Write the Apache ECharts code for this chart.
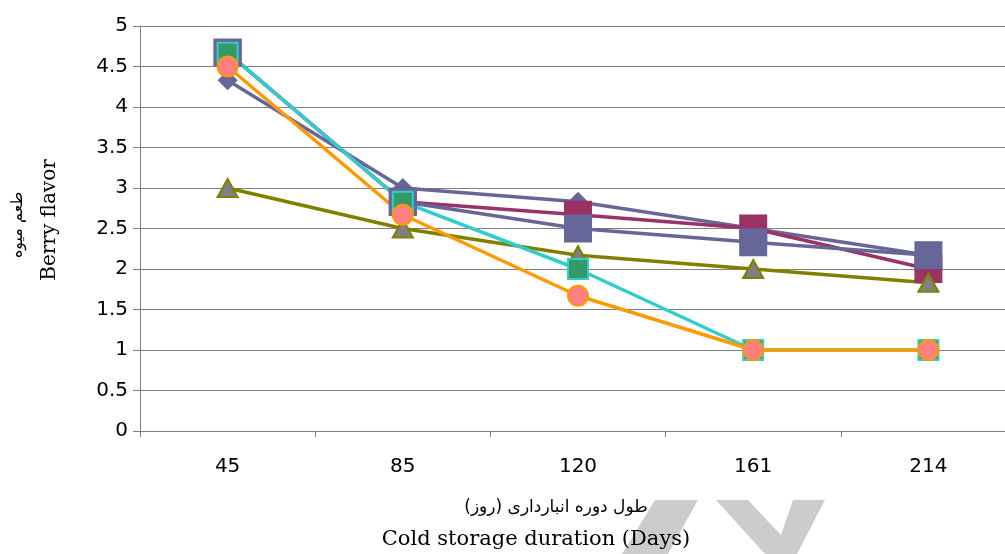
<!DOCTYPE html>
<html>
<head>
<meta charset="utf-8">
<script src="https://cdn.jsdelivr.net/npm/echarts@6/dist/echarts.min.js"></script>
<style>
  html, body { margin: 0; padding: 0; background: #ffffff; }
  #chart { width: 1005px; height: 554px; }
</style>
</head>
<body>
<div id="chart"></div>
<script>
// Storage durations (days) on the category axis
const storageDays = ['45', '85', '120', '161', '214'];

// Berry flavor scores per treatment
const seriesDiamond  = [4.33, 3.0, 2.83, 2.5, 2.17];
const seriesMaroonSq = [4.67, 2.83, 2.67, 2.5, 2.0];
const seriesPurpleSq = [4.67, 2.83, 2.5, 2.33, 2.17];
const seriesTriangle = [3.0, 2.5, 2.17, 2.0, 1.83];
const seriesGreenSq  = [4.67, 2.83, 2.0, 1.0, 1.0];
const seriesCircle   = [4.5, 2.67, 1.67, 1.0, 1.0];

// Value axis ticks
const yMin = 0;
const yMax = 5;
const yStep = 0.5;

const axisGray = '#808080';
const labelFont = 'DejaVu Sans';
const titleFont = 'DejaVu Serif';

function lineSeries(name, data, lineColor, symbol, size, fill, border, borderWidth) {
  return {
    name: name,
    type: 'line',
    data: data,
    symbol: symbol,
    symbolSize: size,
    showAllSymbol: true,
    animation: false,
    lineStyle: { color: lineColor, width: 3.5 },
    itemStyle: { color: fill, borderColor: border, borderWidth: borderWidth },
    emphasis: { disabled: true }
  };
}

const chart = echarts.init(document.getElementById('chart'), null, { renderer: 'canvas' });

chart.setOption({
  backgroundColor: '#ffffff',
  animation: false,
  grid: { left: 140, top: 26, width: 876, height: 405, containLabel: false, outerBoundsMode: 'none' },
  xAxis: {
    type: 'category',
    data: storageDays,
    boundaryGap: true,
    axisLine: { lineStyle: { color: axisGray, width: 1 } },
    axisTick: { show: true, length: 6, lineStyle: { color: axisGray } },
    axisLabel: { color: '#000', fontFamily: labelFont, fontSize: 20, margin: 26 },
    splitLine: { show: false }
  },
  yAxis: {
    type: 'value',
    min: yMin,
    max: yMax,
    interval: yStep,
    axisLine: { show: true, lineStyle: { color: axisGray, width: 1 } },
    axisTick: { show: true, length: 7, lineStyle: { color: axisGray } },
    axisLabel: { color: '#000', fontFamily: labelFont, fontSize: 20, margin: 12 },
    splitLine: { show: true, lineStyle: { color: axisGray, width: 1 } }
  },
  series: [
    lineSeries('A', seriesDiamond, '#666699', 'diamond', 20, '#666699', '#666699', 0),
    lineSeries('B', seriesMaroonSq, '#993366', 'rect', 28, '#993366', '#993366', 0),
    lineSeries('C', seriesPurpleSq, '#666699', 'rect', 28, '#666699', '#666699', 0),
    lineSeries('D', seriesTriangle, '#808000', 'triangle', [20, 18], '#808080', '#808000', 2),
    lineSeries('E', seriesGreenSq, '#33CCCC', 'rect', 20, '#339966', '#33CCCC', 2),
    lineSeries('F', seriesCircle, '#FF9900', 'circle', 20, '#FF8080', '#FF9900', 2)
  ],
  graphic: [
    // faint background emblem at the lower edge
    {
      type: 'polygon', z: -10, silent: true,
      shape: { points: [[655, 500], [698, 500], [668, 554], [622, 554]] },
      style: { fill: '#cccccc' }
    },
    {
      type: 'polygon', z: -10, silent: true,
      shape: { points: [[716, 500], [748, 500], [781, 535], [793, 500], [825, 500], [797, 554], [765, 554]] },
      style: { fill: '#cccccc' }
    },
    // value axis title (Persian + English)
    {
      type: 'text', x: 18, y: 225, rotation: Math.PI / 2,
      style: { text: 'طعم میوه', font: '16px "DejaVu Sans"', fill: '#000', align: 'center', verticalAlign: 'middle' }
    },
    {
      type: 'text', x: 50, y: 220, rotation: Math.PI / 2,
      style: { text: 'Berry flavor', font: '20px "' + titleFont + '"', fill: '#000', align: 'center', verticalAlign: 'middle' }
    },
    // category axis title (Persian + English)
    {
      type: 'text', x: 556, y: 508,
      style: { text: 'طول دوره انبارداری (روز)', font: '17px "DejaVu Sans"', fill: '#000', align: 'center', verticalAlign: 'middle' }
    },
    {
      type: 'text', x: 536, y: 540,
      style: { text: 'Cold storage duration (Days)', font: '21px "' + titleFont + '"', fill: '#000', align: 'center', verticalAlign: 'middle' }
    }
  ]
});
</script>
</body>
</html>
